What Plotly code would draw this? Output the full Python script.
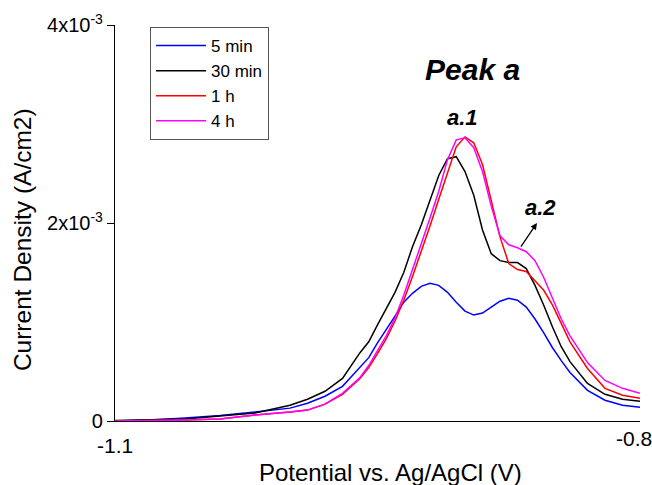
import plotly.graph_objects as go

# Potential (V vs Ag/AgCl)
potential = [-1.100, -1.080, -1.060, -1.040, -1.020, -1.000, -0.990, -0.980, -0.970, -0.960,
             -0.955, -0.950, -0.945, -0.940, -0.935, -0.930, -0.925, -0.920, -0.915, -0.910,
             -0.905, -0.900, -0.895, -0.890, -0.885, -0.880, -0.875, -0.870, -0.865, -0.860,
             -0.855, -0.850, -0.845, -0.840, -0.830, -0.820, -0.810, -0.800]

# Current density in units of 1e-3 A/cm2
i_5min = [0.00, 0.01, 0.03, 0.055, 0.09, 0.13, 0.18, 0.25, 0.35, 0.55,
          0.64, 0.79, 0.92, 1.06, 1.20, 1.29, 1.36, 1.39, 1.37, 1.30,
          1.20, 1.11, 1.07, 1.09, 1.15, 1.21, 1.24, 1.22, 1.15, 1.03,
          0.89, 0.74, 0.61, 0.49, 0.31, 0.21, 0.16, 0.14]
i_30min = [0.005, 0.01, 0.02, 0.05, 0.08, 0.16, 0.22, 0.30, 0.43, 0.69,
           0.80, 0.97, 1.13, 1.30, 1.50, 1.76, 1.98, 2.23, 2.48, 2.65,
           2.67, 2.52, 2.28, 1.93, 1.69, 1.62, 1.60, 1.60, 1.54, 1.37,
           1.17, 0.95, 0.75, 0.60, 0.38, 0.27, 0.22, 0.20]
i_1h = [0.00, 0.003, 0.01, 0.02, 0.06, 0.09, 0.11, 0.17, 0.27, 0.43,
        0.54, 0.68, 0.83, 1.01, 1.22, 1.46, 1.71, 1.97, 2.24, 2.51,
        2.77, 2.87, 2.81, 2.59, 2.23, 1.86, 1.59, 1.53, 1.51, 1.42,
        1.32, 1.17, 0.98, 0.80, 0.53, 0.33, 0.26, 0.23]
i_4h = [0.00, 0.003, 0.01, 0.02, 0.06, 0.09, 0.11, 0.17, 0.28, 0.44,
        0.56, 0.71, 0.86, 1.04, 1.27, 1.53, 1.78, 2.05, 2.32, 2.64,
        2.84, 2.86, 2.76, 2.52, 2.17, 1.87, 1.78, 1.75, 1.71, 1.62,
        1.45, 1.24, 1.03, 0.86, 0.59, 0.41, 0.33, 0.28]

series_names = ["5 min", "30 min", "1 h", "4 h"]
series_colors = ["#0000FF", "#000000", "#FF0000", "#FF00FF"]
series_values = [i_5min, i_30min, i_1h, i_4h]

y_tickvals = [0, 0.002, 0.004]
y_ticktext = ["0", "2x10<sup>-3</sup>", "4x10<sup>-3</sup>"]
x_ticklabels = [(-1.1, "-1.1"), (-0.8, "-0.8")]

FONT = "Liberation Sans, Arial, Helvetica, sans-serif"

fig = go.Figure()
for name, color, vals in zip(series_names, series_colors, series_values):
    fig.add_trace(go.Scatter(
        x=potential, y=[v * 1e-3 for v in vals], mode="lines", name=name,
        line=dict(color=color, width=1.5)))

fig.update_layout(
    width=652, height=485,
    margin=dict(l=115, r=12, t=25, b=64),
    plot_bgcolor="white", paper_bgcolor="white",
    font=dict(family=FONT, size=19, color="black"),
    showlegend=True,
    legend=dict(x=0.0667, y=0.995, xanchor="left", yanchor="top",
                bordercolor="#555555", borderwidth=1, bgcolor="white",
                font=dict(size=17), itemwidth=50),
    xaxis=dict(range=[-1.1, -0.8], showgrid=False, zeroline=False,
               showline=True, linecolor="black", linewidth=1.2,
               ticks="", showticklabels=False),
    yaxis=dict(range=[0, 0.004], showgrid=False, zeroline=False,
               showline=True, linecolor="black", linewidth=1.2,
               ticks="outside", ticklen=7, tickwidth=1.2, tickcolor="black",
               tickvals=y_tickvals, ticktext=y_ticktext, tickfont=dict(size=20)),
)

# axis titles
fig.add_annotation(x=0.524, y=-0.129, xref="paper", yref="paper",
                   text="Potential vs. Ag/AgCl (V)", showarrow=False,
                   font=dict(size=24), xanchor="center", yanchor="middle")
fig.add_annotation(x=-0.177, y=0.457, xref="paper", yref="paper",
                   text="Current Density (A/cm2)", showarrow=False, textangle=-90,
                   font=dict(size=24.5), xanchor="center", yanchor="middle")

for xv, txt in x_ticklabels:
    fig.add_annotation(x=xv, y=(-0.063 if xv < -1.0 else -0.043), xref="x", yref="paper",
                       text=txt, showarrow=False, font=dict(size=21),
                       xanchor="center", yanchor="middle",
                       xshift=(0 if xv < -1.0 else -6))

fig.add_annotation(x=-0.8958, y=0.00355, xref="x", yref="y", text="<b><i>Peak a</i></b>",
                   showarrow=False, font=dict(size=30))
fig.add_annotation(x=-0.9017, y=0.00307, xref="x", yref="y", text="<b><i>a.1</i></b>",
                   showarrow=False, font=dict(size=22))
fig.add_annotation(x=-0.8566, y=0.00216, xref="x", yref="y", text="<b><i>a.2</i></b>",
                   showarrow=False, font=dict(size=22))
fig.add_annotation(x=-0.8589, y=0.00200, ax=-0.8686, ay=0.001747,
                   xref="x", yref="y", axref="x", ayref="y", text="",
                   showarrow=True, arrowhead=2, arrowsize=1, arrowwidth=1.3, arrowcolor="black")

fig.write_html("out.html")
